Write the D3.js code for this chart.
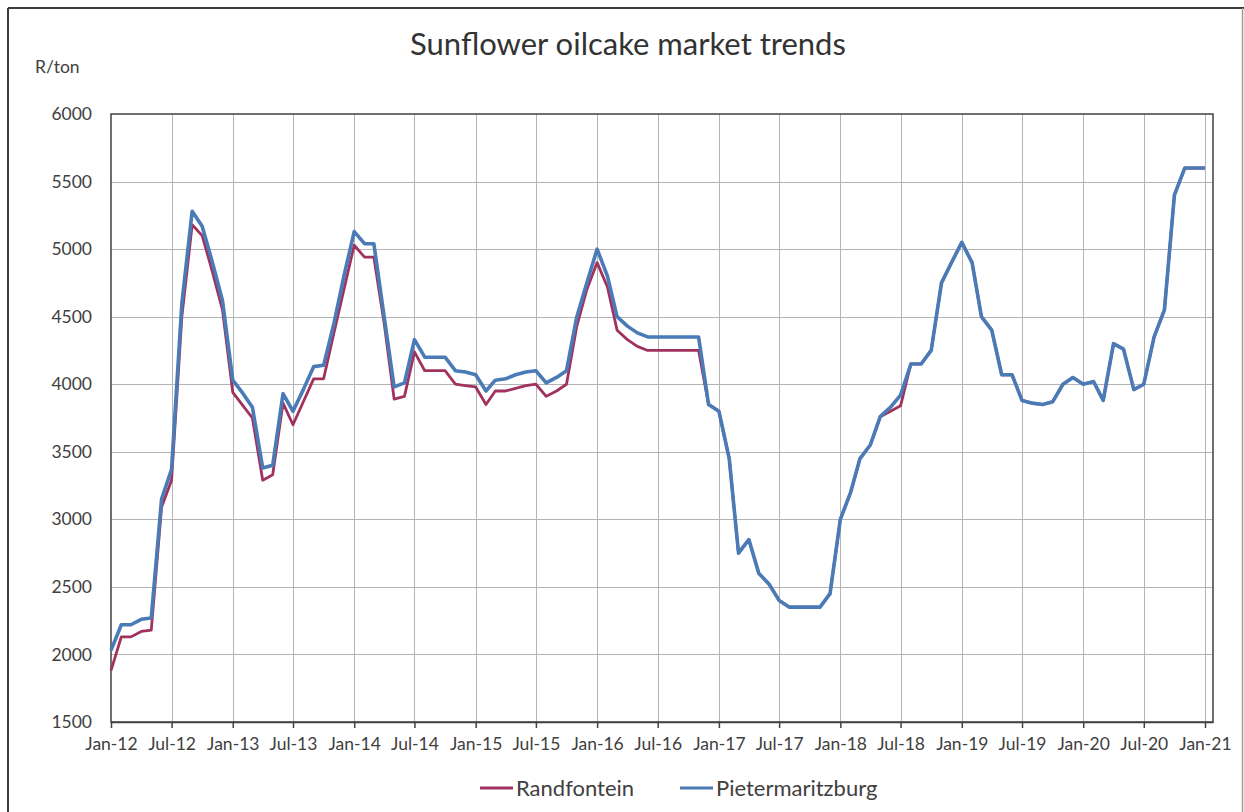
<!DOCTYPE html>
<html>
<head>
<meta charset="utf-8">
<script src="https://cdnjs.cloudflare.com/ajax/libs/d3/7.8.5/d3.min.js"></script>
<style>
  body { margin: 0; background: #fff; }
  svg { display: block; }
  text { font-family: Lato, "Open Sans", sans-serif; }
</style>
</head>
<body>
<svg id="chart" width="1244" height="812"></svg>
<script>
// Monthly observations, Jan-12 through Jan-21
const firstMonth = new Date(2012, 0, 1);
const afterLastMonth = new Date(2021, 1, 1);
const months = d3.timeMonth.range(firstMonth, afterLastMonth);

// R/ton, one value per month
const randfontein = [
  1880, 2130, 2130, 2170, 2180, 3090, 3290, 4500, 5180, 5100, 4830, 4550,
  3940, 3840, 3750, 3290, 3330, 3860, 3700, 3870, 4040, 4040, 4380, 4700,
  5030, 4940, 4940, 4450, 3890, 3910, 4240, 4100, 4100, 4100, 4000, 3990,
  3980, 3850, 3950, 3950, 3970, 3990, 4000, 3910, 3950, 4000, 4430, 4700,
  4900, 4720, 4400, 4330, 4280, 4250, 4250, 4250, 4250, 4250, 4250, 3850,
  3800, 3450, 2750, 2850, 2600, 2520, 2400, 2350, 2350, 2350, 2350, 2450,
  3000, 3200, 3450, 3550, 3760, 3800, 3840, 4150, 4150, 4250, 4750, 4900,
  5050, 4900, 4500, 4400, 4070, 4070, 3880, 3860, 3850, 3870, 4000, 4050,
  4000, 4020, 3880, 4300, 4260, 3960, 4000, 4350, 4550, 5400, 5600, 5600,
  5600
];
const pietermaritzburg = [
  2030, 2220, 2220, 2260, 2270, 3150, 3370, 4600, 5280, 5170, 4900, 4620,
  4030, 3930, 3830, 3380, 3400, 3930, 3800, 3960, 4130, 4140, 4450, 4800,
  5130, 5040, 5040, 4500, 3980, 4010, 4330, 4200, 4200, 4200, 4100, 4090,
  4070, 3950, 4030, 4040, 4070, 4090, 4100, 4010, 4050, 4100, 4500, 4750,
  5000, 4800, 4500, 4430, 4380, 4350, 4350, 4350, 4350, 4350, 4350, 3850,
  3800, 3450, 2750, 2850, 2600, 2520, 2400, 2350, 2350, 2350, 2350, 2450,
  3000, 3200, 3450, 3550, 3760, 3830, 3920, 4150, 4150, 4250, 4750, 4900,
  5050, 4900, 4500, 4400, 4070, 4070, 3880, 3860, 3850, 3870, 4000, 4050,
  4000, 4020, 3880, 4300, 4260, 3960, 4000, 4350, 4550, 5400, 5600, 5600,
  5600
];

const xTickLabels = ["Jan-12","Jul-12","Jan-13","Jul-13","Jan-14","Jul-14","Jan-15","Jul-15","Jan-16",
                     "Jul-16","Jan-17","Jul-17","Jan-18","Jul-18","Jan-19","Jul-19","Jan-20","Jul-20","Jan-21"];
const yTicks = [1500, 2000, 2500, 3000, 3500, 4000, 4500, 5000, 5500, 6000];

const seriesNames = ["Randfontein", "Pietermaritzburg"];
const seriesColors = ["#a1325e", "#4a7bb6"];

const svg = d3.select("#chart");
const W = 1244, H = 812;
const plot = { left: 111, top: 114, right: 1213, bottom: 722 };

const parseTick = d3.timeParse("%b-%y");
const tickDates = xTickLabels.map(parseTick);

const x = d3.scaleTime()
  .domain([firstMonth, new Date(2021, 0, 25)])
  .range([plot.left, plot.right]);
const y = d3.scaleLinear()
  .domain([d3.min(yTicks), d3.max(yTicks)])
  .range([plot.bottom, plot.top]);

// chart frame
svg.append("line").attr("x1", 8).attr("x2", 8).attr("y1", 8).attr("y2", H)
  .attr("stroke", "#3a3a3a").attr("stroke-width", 2);
svg.append("line").attr("x1", 8).attr("x2", W).attr("y1", 8).attr("y2", 8)
  .attr("stroke", "#3a3a3a").attr("stroke-width", 2);
svg.append("line").attr("x1", W - 1.5).attr("x2", W - 1.5).attr("y1", 8).attr("y2", H)
  .attr("stroke", "#9a9a9a").attr("stroke-width", 1.5);

// gridlines
const grid = svg.append("g").attr("stroke", "#b4b4b4").attr("stroke-width", 1);
grid.selectAll("line.v").data(tickDates.slice(1)).join("line")
  .attr("x1", d => Math.round(x(d)) + 0.5).attr("x2", d => Math.round(x(d)) + 0.5)
  .attr("y1", plot.top).attr("y2", plot.bottom);
grid.selectAll("line.h").data(yTicks.slice(1, -1)).join("line")
  .attr("x1", plot.left).attr("x2", plot.right)
  .attr("y1", d => Math.round(y(d)) + 0.5).attr("y2", d => Math.round(y(d)) + 0.5);

// plot area outline
svg.append("rect")
  .attr("x", plot.left).attr("y", plot.top)
  .attr("width", plot.right - plot.left).attr("height", plot.bottom - plot.top)
  .attr("fill", "none").attr("stroke", "#404040").attr("stroke-width", 1.5);

// axes
const xAxis = svg.append("g")
  .attr("transform", `translate(0,${plot.bottom})`)
  .call(d3.axisBottom(x).tickValues(tickDates).tickFormat(d3.timeFormat("%b-%y"))
    .tickSize(6).tickSizeOuter(0).tickPadding(10));
xAxis.select(".domain").attr("stroke", "#404040").attr("stroke-width", 1.5);
xAxis.selectAll(".tick line").attr("stroke", "#404040").attr("stroke-width", 1.5);
xAxis.selectAll("text").attr("font-size", 17.5).attr("fill", "#404040")
  .attr("font-family", "Lato, 'Open Sans', sans-serif");

const yAxis = svg.append("g")
  .attr("transform", `translate(${plot.left},0)`)
  .call(d3.axisLeft(y).tickValues(yTicks).tickFormat(d3.format("d"))
    .tickSize(0).tickPadding(19));
yAxis.select(".domain").remove();
yAxis.selectAll("text").attr("font-size", 17.5).attr("fill", "#404040")
  .attr("font-family", "Lato, 'Open Sans', sans-serif");

// lines
const series = [randfontein, pietermaritzburg];
const widths = [2.8, 3.6];
const line = d3.line().x((d, i) => x(months[i])).y(d => y(d));
series.forEach((vals, k) => {
  svg.append("path")
    .datum(vals)
    .attr("d", line)
    .attr("fill", "none")
    .attr("stroke", seriesColors[k])
    .attr("stroke-width", widths[k])
    .attr("stroke-linejoin", "round");
});

// title and unit label
svg.append("text").attr("x", 628).attr("y", 55).attr("text-anchor", "middle")
  .attr("font-size", 31).attr("fill", "#333").text("Sunflower oilcake market trends");
svg.append("text").attr("x", 35).attr("y", 73)
  .attr("font-size", 17.5).attr("fill", "#404040").text("R/ton");

// legend
const legendItems = [{ x: 480 }, { x: 680 }];
legendItems.forEach((it, k) => {
  svg.append("line").attr("x1", it.x).attr("x2", it.x + 33).attr("y1", 788).attr("y2", 788)
    .attr("stroke", seriesColors[k]).attr("stroke-width", 3);
  svg.append("text").attr("x", it.x + 36).attr("y", 796)
    .attr("font-size", 22).attr("fill", "#404040").text(seriesNames[k]);
});
</script>
</body>
</html>
